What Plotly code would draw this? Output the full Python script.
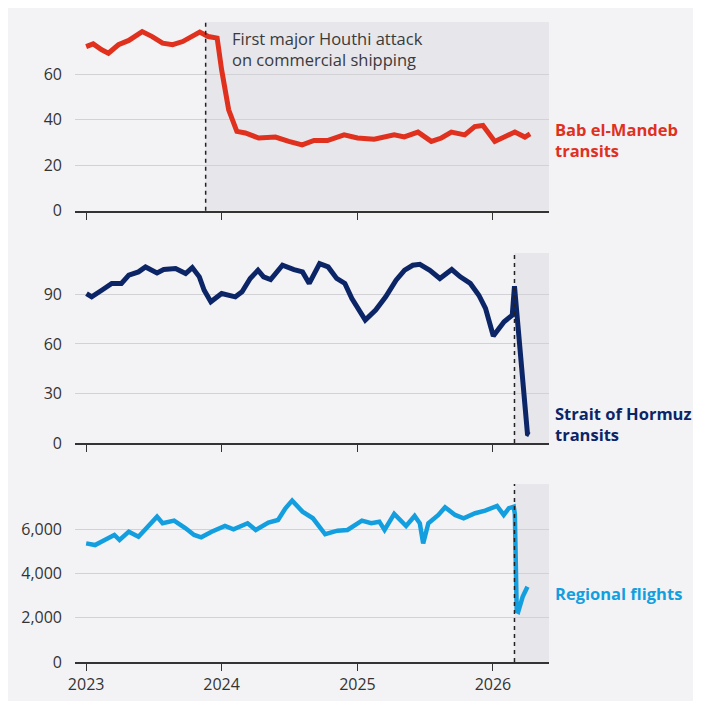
import plotly.graph_objects as go
from plotly.subplots import make_subplots

# ======================================
# Datos
# ======================================

bab_dates = ["2023-01-01", "2023-01-20", "2023-02-12", "2023-03-02", "2023-03-29", "2023-04-26",
             "2023-06-01", "2023-06-28", "2023-07-26", "2023-08-22", "2023-09-18", "2023-10-16",
             "2023-11-03", "2023-11-26", "2023-12-20", "2024-01-01", "2024-01-20", "2024-02-11",
             "2024-03-05", "2024-04-10", "2024-05-25", "2024-06-30", "2024-08-05", "2024-09-06",
             "2024-10-12", "2024-11-26", "2025-01-01", "2025-02-15", "2025-04-10", "2025-05-07",
             "2025-06-13", "2025-07-19", "2025-08-15", "2025-09-11", "2025-10-17", "2025-11-13",
             "2025-12-05", "2026-01-06", "2026-02-02", "2026-03-01", "2026-03-28", "2026-04-11"]
bab_vals = [72.2, 73.4, 70.8, 69.3, 73.0, 74.9,
            78.8, 76.6, 73.7, 73.0, 74.4, 76.6,
            78.6, 76.6, 75.9, 62.0, 44.4, 34.9,
            34.2, 32.0, 32.4, 30.5, 29.0, 30.9,
            30.9, 33.4, 32.0, 31.5, 33.4, 32.5,
            34.6, 30.5, 32.0, 34.6, 33.4, 37.0,
            37.5, 30.5, 32.7, 34.6, 32.4, 33.8]

hormuz_dates = ["2023-01-02", "2023-01-16", "2023-02-12", "2023-03-11", "2023-04-06", "2023-04-26",
                "2023-05-22", "2023-06-10", "2023-07-11", "2023-07-29", "2023-08-30", "2023-09-26",
                "2023-10-14", "2023-11-02", "2023-11-15", "2023-12-03", "2024-01-01", "2024-02-07",
                "2024-02-25", "2024-03-18", "2024-04-08", "2024-04-23", "2024-05-12", "2024-06-13",
                "2024-07-14", "2024-08-06", "2024-08-24", "2024-09-21", "2024-10-14", "2024-11-06",
                "2024-11-28", "2024-12-17", "2025-01-22", "2025-02-19", "2025-03-18", "2025-04-15",
                "2025-05-08", "2025-05-30", "2025-06-18", "2025-07-15", "2025-08-11", "2025-09-12",
                "2025-10-05", "2025-11-01", "2025-11-24", "2025-12-12", "2026-01-02", "2026-01-31",
                "2026-02-22", "2026-02-28", "2026-04-04", "2026-04-09"]
hormuz_vals = [90.5, 88.5, 92.5, 96.6, 96.6, 101.6,
               103.6, 106.6, 103.0, 105.0, 105.6, 102.6,
               106.2, 100.6, 92.5, 85.5, 90.5, 88.5,
               91.5, 99.6, 104.6, 100.6, 99.0, 107.6,
               105.0, 103.6, 96.6, 108.6, 106.6, 99.6,
               96.6, 87.5, 74.4, 80.5, 88.5, 98.6,
               104.6, 107.6, 108.2, 104.6, 99.6, 105.0,
               100.6, 96.6, 89.5, 81.5, 64.8, 73.4,
               77.4, 94.9, 5.6, 5.0]

flights_dates = ["2023-01-01", "2023-01-25", "2023-02-20", "2023-03-18", "2023-04-01", "2023-04-26",
                 "2023-05-22", "2023-06-22", "2023-07-11", "2023-07-26", "2023-08-26", "2023-09-26",
                 "2023-10-19", "2023-11-07", "2023-12-05", "2024-01-10", "2024-02-02", "2024-03-11",
                 "2024-04-02", "2024-05-06", "2024-06-01", "2024-06-21", "2024-07-09", "2024-08-06",
                 "2024-09-03", "2024-10-06", "2024-11-08", "2024-12-05", "2025-01-13", "2025-02-07",
                 "2025-03-01", "2025-03-15", "2025-04-10", "2025-05-12", "2025-06-04", "2025-06-18",
                 "2025-06-27", "2025-07-11", "2025-08-07", "2025-08-25", "2025-09-21", "2025-10-14",
                 "2025-11-14", "2025-12-11", "2026-01-12", "2026-01-30", "2026-02-13", "2026-02-26",
                 "2026-03-01", "2026-03-06", "2026-03-10", "2026-03-22", "2026-04-04"]
flights_vals = [5369, 5292, 5519, 5746, 5519, 5896,
                5669, 6276, 6576, 6276, 6394, 6050,
                5746, 5641, 5896, 6154, 6004, 6276,
                5973, 6304, 6426, 6957, 7301, 6803,
                6503, 5780, 5941, 5973, 6394, 6276,
                6349, 5973, 6698, 6154, 6607, 6276,
                5369, 6276, 6653, 7002, 6653, 6503,
                6730, 6848, 7061, 6653, 6957, 7030,
                6700, 2300, 2267, 2948, 3401]

year_ticks = ["2023-01-01", "2024-01-01", "2025-01-01", "2026-01-01"]
year_labels = ["2023", "2024", "2025", "2026"]

houthi_date = "2023-11-19"
iran_date = "2026-02-28"
x_range = ["2022-12-02", "2026-06-01"]

RED = "#e0301e"
NAVY = "#0b2566"
BLUE = "#139fdf"
BG = "#f3f3f5"
SHADE = "#e6e6eb"
FONT = "Open Sans"

# ======================================
# Figura
# ======================================

fig = make_subplots(rows=3, cols=1, shared_xaxes=True)

fig.add_trace(go.Scatter(x=bab_dates, y=bab_vals, mode="lines",
                         line=dict(color=RED, width=5)), row=1, col=1)
fig.add_trace(go.Scatter(x=hormuz_dates, y=hormuz_vals, mode="lines",
                         line=dict(color=NAVY, width=5)), row=2, col=1)
fig.add_trace(go.Scatter(x=flights_dates, y=flights_vals, mode="lines",
                         line=dict(color=BLUE, width=4.5)), row=3, col=1)

# zonas sombreadas + líneas discontinuas
for r, d in [(1, houthi_date), (2, iran_date), (3, iran_date)]:
    fig.add_vrect(x0=d, x1=x_range[1], fillcolor=SHADE, line_width=0,
                  layer="below", row=r, col=1)
    fig.add_vline(x=d, line=dict(color="#222", width=1.5, dash="4px,4px"),
                  row=r, col=1)

fig.update_xaxes(range=x_range, tickvals=year_ticks, ticktext=year_labels,
                 showgrid=False, showline=True, linecolor="#333", linewidth=1.5,
                 ticks="outside", ticklen=7, tickcolor="#333", tickwidth=1,
                 automargin=False, tickfont=dict(size=16, color="#333"))
fig.update_xaxes(showticklabels=True, row=3, col=1)

common_y = dict(showgrid=True, gridcolor="#d2d2d6", gridwidth=1, zeroline=False,
                showline=False, ticks="", ticklabelstandoff=12, automargin=False,
                tickfont=dict(size=16, color="#333"))
fig.update_yaxes(**common_y)
fig.update_yaxes(range=[0, 83], tickvals=[0, 20, 40, 60], row=1, col=1)
fig.update_yaxes(range=[0, 115], tickvals=[0, 30, 60, 90], row=2, col=1)
fig.update_yaxes(range=[0, 8050], tickvals=[0, 2000, 4000, 6000], tickformat=",",
                 row=3, col=1)

# la página añade 8px de margen, así que la figura es algo más pequeña
fig.update_layout(
    width=693, height=693,
    margin=dict(l=67, r=152, t=14, b=39),
    paper_bgcolor=BG, plot_bgcolor=BG,
    showlegend=False,
    font=dict(family=FONT, color="#333"),
    yaxis=dict(domain=[0.705, 1.0]),
    yaxis2=dict(domain=[0.342, 0.639]),
    yaxis3=dict(domain=[0.0, 0.278]),
)

# textos
fig.add_annotation(x="2024-01-23", y=71, xref="x", yref="y", xanchor="left",
                   text="First major Houthi attack<br>on commercial shipping",
                   showarrow=False, align="left",
                   font=dict(size=16.5, color="#3a3a3a", family=FONT))

labels = [("Bab el-Mandeb<br>transits", "y", 31, RED),
          ("Strait of Hormuz<br>transits", "y2", 11.6, NAVY),
          ("Regional flights", "y3", 3116, BLUE)]
for txt, yref, yv, col in labels:
    fig.add_annotation(x=1.008, y=yv, xref="paper", yref=yref, xanchor="left",
                       text="<b>" + txt + "</b>", showarrow=False, align="left",
                       font=dict(size=16.5, color=col, family=FONT))

fig.write_html("out.html")
